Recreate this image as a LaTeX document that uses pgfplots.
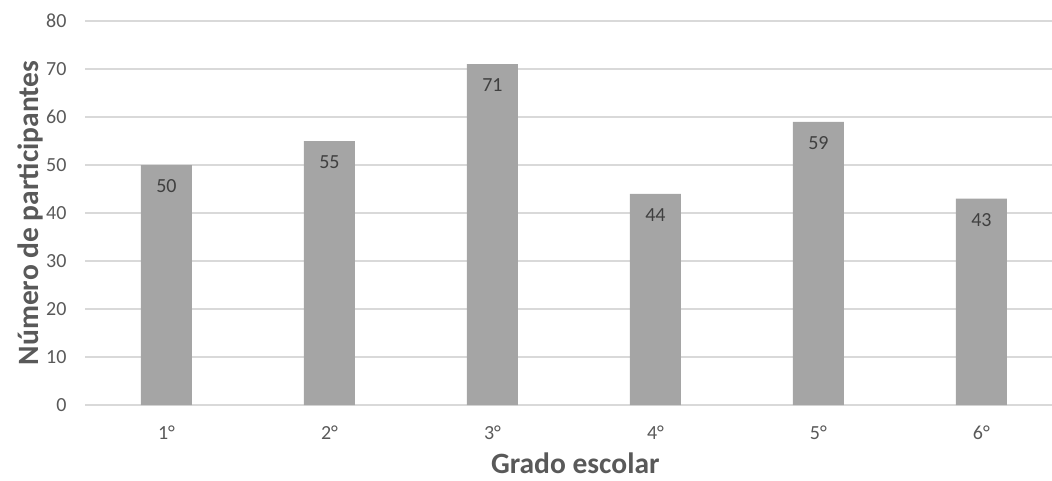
\documentclass[border=0pt]{standalone}
\usepackage{pgfplots}
\pgfplotsset{compat=1.18}
\usepackage{fontspec}
\setmainfont{Carlito}
\definecolor{barc}{HTML}{A5A5A5}
\definecolor{gridc}{HTML}{D9D9D9}
\definecolor{txtc}{HTML}{595959}
\definecolor{lblc}{HTML}{404040}
\begin{document}
\begin{tikzpicture}[x=1pt,y=1pt]
\useasboundingbox (0,0) rectangle (1052,480);
\begin{axis}[
  at={(85pt,75pt)}, anchor=south west,
  scale only axis, width=967pt, height=384pt,
  xmin=-0.5, xmax=5.433, ymin=0, ymax=80,
  ytick={0,10,...,80},
  xtick={0,1,2,3,4,5},
  xticklabels={1°,2°,3°,4°,5°,6°},
  ymajorgrids, grid style={draw=gridc, line width=1.3pt},
  axis lines*=left,
  x axis line style={draw=gridc, line width=1.3pt, -},
  y axis line style={draw=none},
  tick style={draw=none},
  major tick length=0pt,
  /pgf/number format/assume math mode=true,
  ticklabel style={font=\fontsize{20}{24}\selectfont, text=txtc},
  yticklabel style={anchor=east, xshift=-15pt},
  xticklabel style={anchor=north, yshift=-17pt},
  ylabel={Número de participantes},
  xlabel={Grado escolar},
  label style={font=\fontsize{29.5}{34}\selectfont\bfseries, text=txtc},
  ylabel style={at={(axis description cs:-0.0569,0.5)}, anchor=center, rotate=0},
  xlabel style={at={(axis description cs:0.507,-0.178)}, anchor=base, inner sep=0pt},
  clip=false,
]
\addplot[ybar, bar width=51pt, fill=barc, draw=none,
  nodes near coords,
  every node near coord/.append style={anchor=center, yshift=-21pt, font=\fontsize{20}{24}\selectfont, text=lblc},
] coordinates {(0,50) (1,55) (2,71) (3,44) (4,59) (5,43)};
\end{axis}
\end{tikzpicture}
\end{document}
